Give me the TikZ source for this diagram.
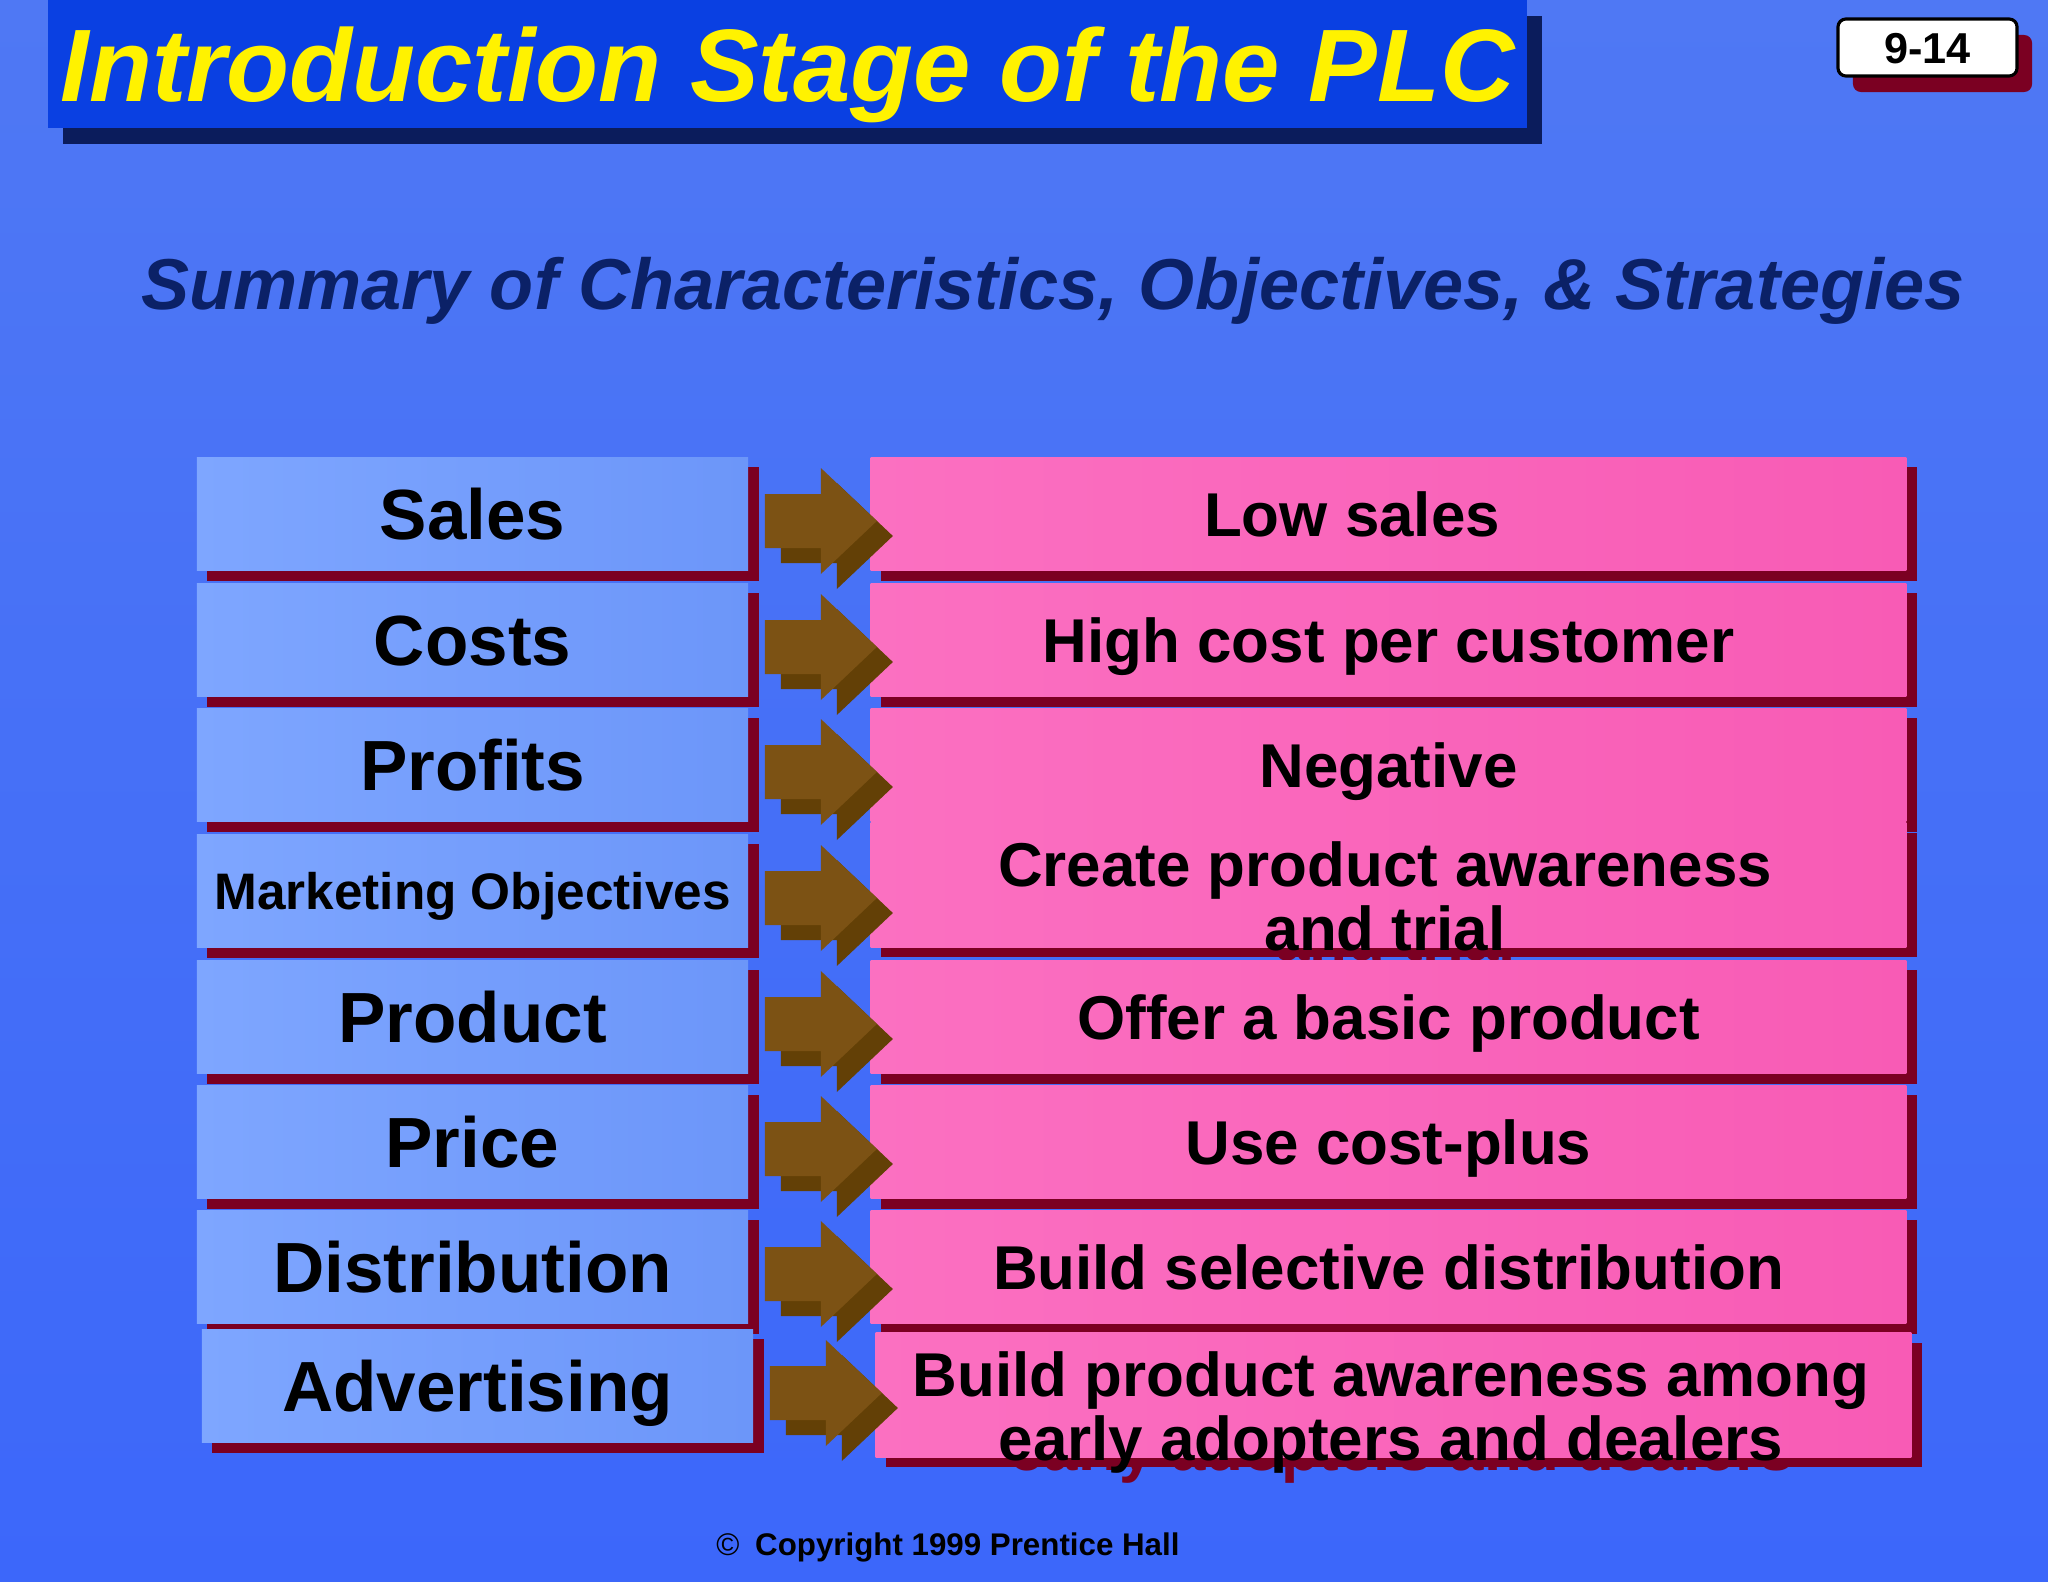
\documentclass[tikz,border=0pt]{standalone}
\usepackage{fontspec}
\setmainfont{Liberation Sans}
\usetikzlibrary{shadows}

\definecolor{slidetop}{HTML}{4F78F4}
\definecolor{slidebot}{HTML}{3C67FA}
\definecolor{titleblue}{HTML}{0A40E2}
\definecolor{titleshade}{HTML}{0B1C5C}
\definecolor{subnavy}{HTML}{0B2167}
\definecolor{shadowred}{HTML}{7B0022}
\definecolor{namelight}{HTML}{7EA6FF}
\definecolor{namedark}{HTML}{6C96F9}
\definecolor{pinklight}{HTML}{FB70C1}
\definecolor{pinkdark}{HTML}{F85BB5}
\definecolor{arrowfront}{HTML}{7C5214}
\definecolor{arrowback}{HTML}{634006}

\newcommand{\rowfont}{\fontsize{20.2}{24}\selectfont\bfseries}
\newcommand{\valfont}{\fontsize{17.6}{18}\selectfont\bfseries}

\tikzstyle{rowname} = [rectangle, minimum width=5.51cm, minimum height=1.13cm, inner sep=0pt, left color=namelight, right color=namedark, drop shadow={shadow xshift=0.105cm, shadow yshift=-0.1cm, fill=shadowred, opacity=1}, font=\rowfont, text height=0.51cm, text depth=0pt]
\tikzstyle{rowvalue} = [rectangle, minimum width=10.35cm, minimum height=1.13cm, inner sep=0pt, left color=pinklight, right color=pinkdark, drop shadow={shadow xshift=0.105cm, shadow yshift=-0.1cm, fill=shadowred, opacity=1}, font=\valfont, text height=0.44cm, text depth=0pt]
\tikzstyle{valtext} = [inner sep=0pt, align=center, font=\valfont]

% block arrow from a name box towards its value box
\newcommand{\plcarrow}[1]{%
  \fill[arrowback] ([shift={(32,-5)}]#1.east) -- ++(56,0) -- ++(0,-26) -- ++(56,53) -- ++(-56,53) -- ++(0,-26) -- ++(-56,0) -- cycle;
  \fill[arrowfront] ([shift={(16,-20)}]#1.east) -- ++(56,0) -- ++(0,-26) -- ++(56,53) -- ++(-56,53) -- ++(0,-26) -- ++(-56,0) -- cycle;}

\begin{document}
\begin{tikzpicture}[x=0.01cm, y=-0.01cm]
    \shade[top color=slidetop, bottom color=slidebot] (0,0) rectangle (2048,1582);
    \useasboundingbox (0,0) rectangle (2048,1582);

    % heading
    \node[rectangle, minimum width=14.79cm, minimum height=1.28cm, inner sep=0pt, fill=titleblue,
          drop shadow={shadow xshift=0.15cm, shadow yshift=-0.16cm, fill=titleshade, opacity=1},
          text=yellow, font=\fontsize{29.3}{35}\selectfont\bfseries\itshape, text height=0.74cm, text depth=0pt]
          (title) at (787.5,64) {Introduction Stage of the PLC};
    \node[rectangle, rounded corners=0.08cm, draw=black, line width=0.9pt, fill=white, minimum width=1.79cm, minimum height=0.57cm, inner sep=0pt,
          drop shadow={shadow xshift=0.15cm, shadow yshift=-0.16cm, fill=shadowred, opacity=1},
          font=\fontsize{12.3}{14}\selectfont\bfseries, text height=0.31cm, text depth=0pt]
          (page) at (1927.5,47.5) {9-14};
    \node[anchor=base, inner sep=0pt, text=subnavy, font=\fontsize{20.5}{24}\selectfont\bfseries\itshape]
          (summary) at (1053,310) {Summary of Characteristics, Objectives, \& Strategies};

    % rows
    \node[rowname] (sales) at (472.5,514) {Sales};
    \node[rowvalue] (salesv) at (1388.5,514) {};
    \node[valtext, text height=0.44cm, text depth=0pt] (salest) at (1352,514) {Low sales};

    \node[rowname] (costs) at (472.5,640) {Costs};
    \node[rowvalue] (costsv) at (1388.5,640) {High cost per customer};

    \node[rowname] (profits) at (472.5,765) {Profits};
    \node[rowvalue] (profitsv) at (1388.5,765) {Negative};

    \node[rowname, font=\fontsize{14.6}{17}\selectfont\bfseries, text height=0.37cm] (mktobj) at (472.5,891) {Marketing Objectives};
    \node[valtext, text=shadowred, anchor=base] (mktshade) at (1395.5,960) {Create product awareness\\and trial};
    \node[rowvalue, minimum height=1.24cm] (mktobjv) at (1388.5,885) {};
    \node[valtext, anchor=base] (mktobjt) at (1385,950) {Create product awareness\\and trial};

    \node[rowname] (product) at (472.5,1017) {Product};
    \node[rowvalue] (productv) at (1388.5,1017) {Offer a basic product};

    \node[rowname] (price) at (472.5,1142) {Price};
    \node[rowvalue] (pricev) at (1388.5,1142) {Use cost-plus};

    \node[rowname] (distrib) at (472.5,1267) {Distribution};
    \node[rowvalue] (distribv) at (1388.5,1267) {Build selective distribution};

    \node[rowname] (advert) at (477.5,1386) {Advertising};
    \node[valtext, text=shadowred, anchor=base] (advshade) at (1401.5,1470) {Build product awareness among\\early adopters and dealers};
    \node[rowvalue, minimum height=1.24cm] (advertv) at (1393.5,1395) {};
    \node[valtext, anchor=base] (advertt) at (1391,1460) {Build product awareness among\\early adopters and dealers};

    \plcarrow{sales}
    \plcarrow{costs}
    \plcarrow{profits}
    \plcarrow{mktobj}
    \plcarrow{product}
    \plcarrow{price}
    \plcarrow{distrib}
    \plcarrow{advert}

    \node[anchor=base, inner sep=0pt, font=\fontsize{8.9}{11}\selectfont\bfseries] (copy) at (948,1555) {{\mdseries\textcopyright}\enspace Copyright 1999 Prentice Hall};
\end{tikzpicture}
\end{document}
